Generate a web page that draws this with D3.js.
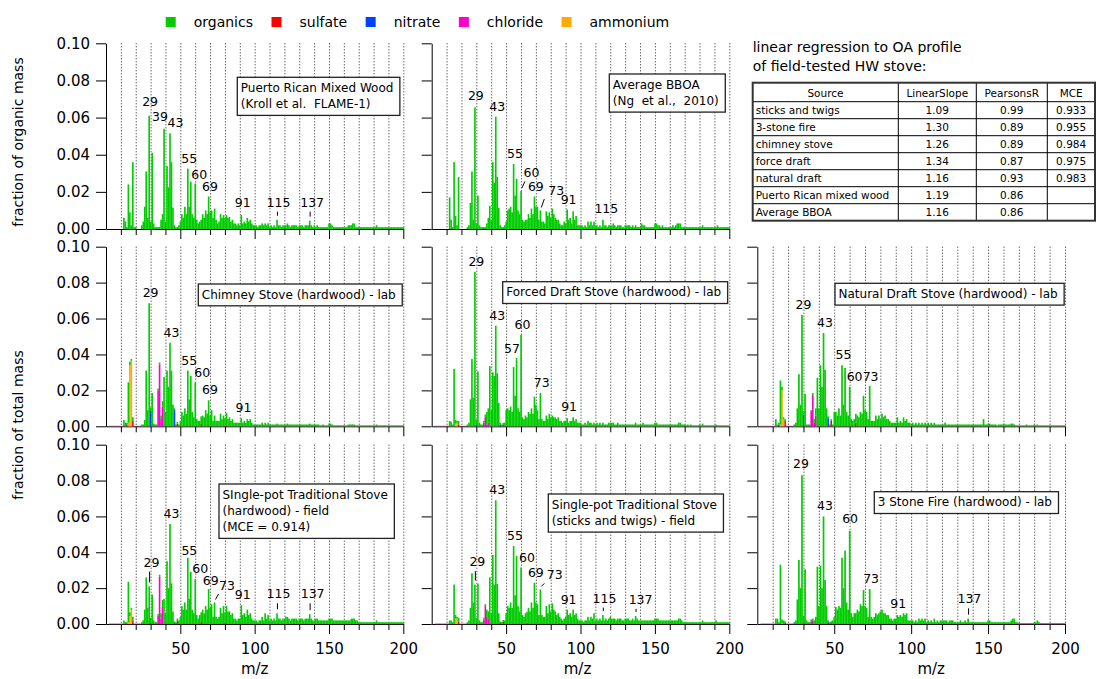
<!doctype html>
<html>
<head>
<meta charset="utf-8">
<title>Stove OA mass spectra</title>
<script src="https://cdnjs.cloudflare.com/ajax/libs/d3/7.8.5/d3.min.js"></script>
<style>
  body { margin: 0; background: #fff; }
  svg text { font-family: "DejaVu Sans", sans-serif; fill: #000; }
  line.grid { stroke: #222; stroke-width: 1; stroke-dasharray: 1 2; }
  .box rect { fill: #fff; stroke: #222; stroke-width: 1.3; }
  .box text { font-size: 12px; white-space: pre; }
  .peak { font-size: 12.5px; text-anchor: middle; }
  .lead { stroke: #000; stroke-width: 1; }
  .tbl line { stroke: #000; stroke-width: 1; }
  .tbl text { font-size: 10.5px; }
</style>
</head>
<body>
<svg width="1096" height="679"></svg>
<script>
// ---- data -------------------------------------------------------------
// organic spectra, one row per decade, first value is m/z 10
var mzFirst = 10;

var orgPuerto = [
  [0,0,.006,.004,.001,.024,.009,.002,.036,.001],
  [.001,0,0,0,.002,.004,.012,.031,.006,.061],
  [.004,.041,.003,.001,.001,.001,.001,.005,.008,.054],
  [.004,.034,.0225,.0515,.036,.0115,.002,.001,.001,.002],
  [.004,.008,.006,.012,.008,.0325,.012,.0255,.008,.006],
  [.0245,.005,.003,.004,.005,.008,.006,.010,.008,.0175],
  [.009,.010,.006,.011,.005,.003,.004,.008,.006,.0075],
  [.006,.0075,.006,.0065,.004,.005,.003,.003,.002,.003],
  [.002,.0075,.003,.004,.003,.006,.004,.005,.003,.002],
  [.002,.002,.001,.002,.002,.003,.002,.003,.002,.003],
  [.001,.002,.001,.002,.001,.005,.002,.002,.001,.002],
  [.002,.002,.003,.002,.001,.002,.002,.002,.002,.001],
  [.002,.002,.002,.001,.002,.002,.002,.0045,.002,.001],
  [.002,.001,.002,.001,.001,.001,.001,.001,.001,.001],
  [.003,.003,.002,.001,.001,.001,.001,.001,.001,.001],
  [.001,.001,.001,.002,.002,.002,.003,.003,.001,.001],
  [.001,.001,.001,.001,.001,.001,.001,.001,.001,.001],
  [.001,.001,.002,.001,.001,.001,.001,.001,.001,.001],
  [.001,.001,.001,.001,.001,.001,.001,.001,.001,.001,.001]
];

var orgBBOA = [
  [0,0,.017,.005,.001,.036,.007,.002,.028,0],
  [0,0,0,0,.001,.002,.014,.031,.005,.0655],
  [.003,.018,.002,.001,.001,.001,.001,.003,.006,.0125],
  [.005,.036,.025,.0605,.028,.0115,.002,.001,.001,.002],
  [.004,.010,.011,.012,.009,.035,.018,.027,.010,.008],
  [.0205,.005,.004,.005,.005,.008,.006,.011,.008,.0175],
  [.012,.012,.005,.010,.004,.004,.003,.0095,.007,.009],
  [.006,.011,.008,.006,.005,.005,.003,.002,.002,.004],
  [.003,.0105,.005,.006,.003,.0095,.005,.007,.002,.002],
  [.002,.002,.001,.002,.001,.004,.002,.004,.002,.004],
  [.002,.002,.001,.002,.001,.005,.002,.002,.001,.002],
  [.002,.002,.003,.002,.001,.002,.002,.002,.001,.001],
  [.002,.002,.002,.002,.001,.002,.001,.002,.001,.001],
  [.001,.003,.002,.002,.001,.001,.001,.001,.001,.001],
  [.003,.003,.002,.002,.001,.002,.001,.001,.001,.001],
  [.001,.001,.002,.001,.002,.003,.003,.003,.001,.001],
  [.001,.001,.001,.001,.001,.001,.001,.001,.001,.001],
  [.001,.001,.002,.001,.001,.001,.001,.001,.001,.001],
  [.001,.001,.002,.001,.001,.001,.001,.001,.001,.001,.001]
];

var orgChimney = [
  [0,0,.0035,.002,.001,.0225,.002,.001,.002,0],
  [0,0,0,0,.001,.001,.0035,.031,.009,.0685],
  [.002,.0185,.0015,.001,.001,.001,.001,.002,.003,.0275],
  [.008,.031,.022,.0465,.031,.012,.001,.001,.001,.001],
  [.003,.008,.006,.010,.007,.031,.015,.028,.008,.005],
  [.0245,.004,.003,.003,.004,.006,.005,.009,.007,.0145],
  [.006,.009,.003,.006,.003,.003,.003,.007,.004,.006],
  [.004,.007,.004,.005,.003,.004,.002,.002,.002,.002],
  [.002,.0045,.002,.003,.002,.004,.003,.004,.002,.001],
  [.001,.001,.001,.001,.001,.002,.001,.002,.001,.002],
  [.001,.001,.001,.001,.001,.0015,.001,.001,.001,.001],
  [.001,.001,.0015,.001,.001,.001,.001,.001,.001,.001],
  [.001,.001,.001,.001,.001,.001,.001,.0015,.001,.001],
  [.001,.001,.001,.001,.0005,.0005,.001,.0005,.0005,.0005],
  [.0015,.0015,.001,.0005,.0005,.0005,.0005,.0005,.0005,.0005],
  [.0005,.0005,.0005,.001,.001,.001,.001,.001,.0005,.0005],
  [.0005,.0005,.0005,.0005,.0005,.0005,.0005,.0005,.0005,.0005],
  [.0005,.0005,.001,.0005,.0005,.0005,.0005,.0005,.0005,.0005],
  [.0005,.0005,.0005,.0005,.0005,.0005,.0005,.0005,.0005,.0005,.0005]
];

var orgForced = [
  [0,0,.003,.0025,.001,.032,.002,.001,.002,0],
  [0,0,0,0,.001,.002,.015,.0375,.016,.086],
  [.003,.0305,.002,.001,.001,.001,.001,.007,.008,.0335],
  [.009,.030,.028,.056,.0295,.013,.001,.001,.001,.002],
  [.009,.010,.009,.011,.008,.033,.017,.038,.010,.008],
  [.051,.005,.004,.006,.005,.008,.007,.010,.007,.0165],
  [.012,.009,.004,.0185,.004,.003,.003,.006,.004,.007],
  [.005,.006,.005,.005,.004,.005,.003,.003,.002,.003],
  [.003,.0045,.002,.003,.003,.005,.003,.004,.002,.002],
  [.002,.001,.001,.002,.001,.003,.002,.002,.001,.002],
  [.001,.002,.001,.002,.001,.002,.001,.001,.001,.002],
  [.002,.002,.002,.001,.001,.002,.001,.001,.001,.001],
  [.001,.001,.001,.001,.001,.001,.001,.002,.001,.001],
  [.001,.001,.002,.001,.001,.001,.001,.001,.001,.001],
  [.002,.002,.001,.001,.001,.001,.001,.001,.001,.001],
  [.001,.001,.001,.001,.001,.001,.002,.002,.001,.001],
  [.001,.0005,.001,.0005,.001,.0005,.0005,.0005,.0005,.0005],
  [.001,.0005,.0015,.0005,.0005,.0005,.0005,.0005,.0005,.0005],
  [.0005,.001,.0005,.0005,.0005,.0005,.0005,.0005,.0005,.0005,.0005]
];

var orgNatural = [
  [0,0,.004,.001,.001,.0245,.002,.001,.001,0],
  [0,0,0,0,.001,.002,.010,.029,.012,.062],
  [.002,.018,.001,.001,.001,.001,.001,.002,.004,.027],
  [.010,.034,.022,.052,.0315,.010,.001,.001,.001,.001],
  [.008,.008,.006,.010,.006,.034,.012,.0325,.008,.006],
  [.022,.004,.003,.004,.005,.006,.005,.008,.007,.017],
  [.009,.008,.004,.0225,.003,.003,.003,.006,.004,.006],
  [.004,.007,.005,.006,.004,.004,.003,.002,.002,.002],
  [.002,.005,.002,.003,.002,.005,.003,.004,.002,.002],
  [.001,.002,.001,.002,.001,.002,.001,.002,.001,.002],
  [.001,.002,.001,.002,.001,.002,.001,.001,.001,.001],
  [.001,.001,.002,.001,.001,.001,.001,.001,.001,.001],
  [.001,.001,.001,.001,.001,.001,.001,.001,.001,.001],
  [.001,.001,.001,.001,.001,.001,.001,.004,.001,.001],
  [.0015,.0015,.001,.001,.001,.001,.0005,.001,.001,.001],
  [.0015,.001,.001,.001,.001,.0015,.0015,.001,.0005,.0005],
  [.0005,.0005,.0005,.0005,.0005,.001,.0005,.0005,.0005,.0005],
  [.001,.0005,.001,.0005,.0005,.0005,.0005,.0005,.0005,.0005],
  [.0005,.0005,.0005,.0005,.0005,.0005,.0005,.0005,.0005,.0005,.0005]
];

var orgHardField = [
  [0,0,.002,.001,.001,.0225,.002,.001,.002,0],
  [0,0,0,0,.001,.002,.008,.026,.009,.021],
  [.003,.0165,.002,.001,.001,.001,.001,.003,.004,.014],
  [.006,.035,.020,.0558,.0227,.007,.001,.001,.001,.002],
  [.004,.010,.008,.012,.008,.037,.014,.029,.008,.006],
  [.025,.005,.003,.005,.005,.008,.006,.010,.008,.0195],
  [.009,.011,.004,.012,.004,.003,.004,.009,.006,.010],
  [.006,.010,.007,.007,.005,.006,.003,.003,.002,.003],
  [.003,.0105,.005,.006,.004,.008,.005,.006,.003,.002],
  [.002,.002,.001,.002,.002,.004,.002,.006,.003,.005],
  [.002,.003,.002,.003,.002,.006,.003,.003,.002,.003],
  [.003,.004,.004,.003,.002,.003,.003,.003,.003,.002],
  [.003,.003,.003,.002,.003,.003,.003,.0055,.003,.002],
  [.002,.003,.003,.002,.002,.002,.002,.002,.002,.002],
  [.003,.003,.003,.002,.002,.002,.002,.002,.002,.002],
  [.002,.002,.002,.002,.002,.003,.003,.003,.002,.002],
  [.001,.001,.001,.001,.001,.001,.001,.001,.001,.001],
  [.001,.001,.002,.001,.001,.001,.001,.001,.001,.001],
  [.001,.001,.001,.001,.001,.001,.001,.001,.001,.001,.001]
];

var orgSticks = [
  [0,0,.002,.002,.001,.022,.002,.001,.002,0],
  [0,0,0,0,.001,.002,.009,.0283,.012,.022],
  [.003,.0225,.002,.001,.001,.001,.001,.004,.004,.026],
  [.006,.0385,.022,.069,.0223,.006,.001,.001,.001,.002],
  [.006,.010,.009,.012,.009,.0435,.016,.038,.010,.007],
  [.0315,.005,.004,.006,.006,.009,.007,.012,.009,.023],
  [.012,.011,.005,.0193,.005,.004,.004,.010,.006,.011],
  [.007,.0115,.008,.007,.005,.006,.004,.003,.002,.003],
  [.004,.008,.005,.006,.004,.008,.005,.006,.003,.002],
  [.002,.002,.001,.002,.002,.004,.002,.004,.003,.006],
  [.002,.003,.002,.003,.002,.005,.002,.003,.002,.003],
  [.004,.003,.003,.003,.002,.003,.003,.003,.002,.002],
  [.003,.003,.003,.002,.002,.003,.002,.0045,.003,.002],
  [.002,.002,.002,.002,.002,.002,.002,.002,.002,.002],
  [.003,.003,.003,.002,.002,.002,.002,.002,.002,.002],
  [.002,.002,.002,.002,.002,.002,.003,.003,.002,.001],
  [.001,.001,.001,.001,.001,.001,.001,.001,.001,.001],
  [.001,.001,.002,.001,.001,.001,.001,.001,.001,.001],
  [.001,.002,.001,.001,.001,.001,.001,.001,.001,.001,.001]
];

var orgStone = [
  [0,0,.003,.003,.001,.033,.002,.002,.001,0],
  [0,0,0,0,.001,.002,.0137,.0357,.020,.083],
  [.004,.0305,.002,.001,.001,.001,.001,.002,.004,.032],
  [.010,.0325,.020,.060,.0245,.010,.001,.001,.001,.002],
  [.004,.0095,.008,.010,.009,.037,.020,.041,.012,.008],
  [.052,.006,.004,.006,.006,.008,.007,.011,.010,.019],
  [.010,.009,.004,.0195,.004,.003,.004,.006,.005,.006],
  [.007,.008,.006,.006,.005,.005,.003,.003,.002,.003],
  [.003,.005,.004,.005,.004,.006,.005,.006,.002,.002],
  [.002,.002,.001,.002,.001,.003,.002,.003,.002,.003],
  [.001,.002,.001,.002,.001,.003,.001,.002,.001,.002],
  [.002,.002,.002,.002,.001,.002,.002,.002,.001,.001],
  [.001,.001,.002,.001,.001,.002,.001,.003,.001,.001],
  [.001,.001,.001,.001,.001,.001,.001,.001,.001,.001],
  [.002,.002,.001,.001,.001,.001,.001,.001,.001,.001],
  [.001,.001,.001,.001,.001,.002,.003,.003,.001,.001],
  [.0005,.0005,.0005,.0005,.0005,.0005,.0005,.0005,.0005,.0005],
  [.001,.001,.002,.001,.0005,.0005,.0005,.0005,.0005,.0005],
  [.0005,.0005,.0005,.0005,.0005,.0005,.0005,.0005,.0005,.0005,.0005]
];

// inorganic species, [m/z, fraction]
var chimneySulfate = [[18,.003],[48,.0015],[64,.0015],[80,.0005],[81,.0005]];
var chimneyNitrate = [[14,.001],[30,.0085],[46,.009]];
var chimneyChloride = [[35,.020],[36,.0345],[37,.004],[38,.011]];
var chimneyAmmonium = [[15,.002],[16,.034],[17,.0365]];

var forcedSulfate = [[18,.001],[48,.0008]];
var forcedNitrate = [[30,.0008],[46,.001]];
var forcedChloride = [[35,.002],[36,.0055],[37,.001],[38,.002]];
var forcedAmmonium = [[16,.0015],[17,.002]];

var naturalSulfate = [[18,.003],[48,.003],[64,.002]];
var naturalNitrate = [[14,.001],[30,.0065],[46,.0045]];
var naturalChloride = [[35,.008],[36,.0175],[37,.002],[38,.006]];
var naturalAmmonium = [[15,.001],[16,.020],[17,.004]];

var hardSulfate = [[18,.002],[48,.002],[64,.0015],[80,.0005]];
var hardNitrate = [[30,.0005],[46,.0005]];
var hardChloride = [[35,.0045],[36,.0265],[37,.003],[38,.0095]];
var hardAmmonium = [[15,.001],[16,.0045],[17,.008]];

var sticksSulfate = [[18,.0015],[48,.0012],[64,.0008]];
var sticksNitrate = [[30,.0005],[46,.0005]];
var sticksChloride = [[35,.0025],[36,.010],[37,.004],[38,.003]];
var sticksAmmonium = [[16,.003],[17,.003]];

var stoneSulfate = [[18,.0005],[48,.0005]];
var stoneNitrate = [[30,.0005],[46,.001]];
var stoneChloride = [[35,.0015],[36,.002]];
var stoneAmmonium = [[16,.0005]];

// labelled peaks
var peaksPuerto = [29,39,43,55,60,69,91,115,137];
var peaksBBOA = [29,43,55,60,69,73,91,115];
var peaksChimney = [29,43,55,60,69,91];
var peaksForced = [29,43,57,60,73,91];
var peaksNatural = [29,43,55,60,73];
var peaksHard = [29,43,55,60,69,73,91,115,137];
var peaksSticks = [29,43,55,60,69,73,91,115,137];
var peaksStone = [29,43,60,73,91,137];

var species = ["organics","sulfate","nitrate","chloride","ammonium"];
var speciesColors = ["#00cc00","#ff0000","#0040ff","#ff00cc","#ffaa00"];
var stackOrder = ["sulfate","nitrate","chloride","ammonium","organics"];

var yTicks = [0,0.02,0.04,0.06,0.08,0.10];
var xTicks = [10,20,30,40,50,60,70,80,90,100,110,120,130,140,150,160,170,180,190,200];
var xMajor = [50,100,150,200];

var tableHead = ["Source","LinearSlope","PearsonsR","MCE"];
var tableSource = ["sticks and twigs","3-stone fire","chimney stove","force draft","natural draft","Puerto Rican mixed wood","Average BBOA"];
var tableSlope = ["1.09","1.30","1.26","1.34","1.16","1.19","1.16"];
var tablePearson = ["0.99","0.89","0.89","0.87","0.93","0.86","0.86"];
var tableMCE = ["0.933","0.955","0.984","0.975","0.983","",""];

// ---- layout -----------------------------------------------------------
var cols = [{l:106, r:403.3}, {l:431.7, r:729.3}, {l:757.3, r:1065}];
var rows = [{t:43.3, b:229}, {t:246.7, b:426.3}, {t:444.7, b:624}];

var panels = [
  {key:"A", col:0, row:0, org:orgPuerto, peaks:peaksPuerto, box:[131.3,34],
   title:["Puerto Rican Mixed Wood","(Kroll et al.  FLAME-1)"]},
  {key:"B", col:1, row:0, org:orgBBOA, peaks:peaksBBOA, box:[177.6,30.7],
   title:["Average BBOA","(Ng  et al.,  2010)"]},
  {key:"C", col:0, row:1, org:orgChimney, peaks:peaksChimney, box:[92.3,37.3],
   sulfate:chimneySulfate, nitrate:chimneyNitrate, chloride:chimneyChloride, ammonium:chimneyAmmonium,
   title:["Chimney Stove (hardwood) - lab"]},
  {key:"D", col:1, row:1, org:orgForced, peaks:peaksForced, box:[71,35],
   sulfate:forcedSulfate, nitrate:forcedNitrate, chloride:forcedChloride, ammonium:forcedAmmonium,
   title:["Forced Draft Stove (hardwood) - lab"]},
  {key:"E", col:2, row:1, org:orgNatural, peaks:peaksNatural, box:[77.7,36.6],
   sulfate:naturalSulfate, nitrate:naturalNitrate, chloride:naturalChloride, ammonium:naturalAmmonium,
   title:["Natural Draft Stove (hardwood) - lab"]},
  {key:"F", col:0, row:2, org:orgHardField, peaks:peaksHard, box:[113,39.3],
   sulfate:hardSulfate, nitrate:hardNitrate, chloride:hardChloride, ammonium:hardAmmonium,
   title:["SIngle-pot Traditional Stove","(hardwood) - field","(MCE = 0.914)"]},
  {key:"G", col:1, row:2, org:orgSticks, peaks:peaksSticks, box:[116.6,49.3],
   sulfate:sticksSulfate, nitrate:sticksNitrate, chloride:sticksChloride, ammonium:sticksAmmonium,
   title:["Single-pot Traditional Stove","(sticks and twigs) - field"]},
  {key:"H", col:2, row:2, org:orgStone, peaks:peaksStone, box:[117,47],
   sulfate:stoneSulfate, nitrate:stoneNitrate, chloride:stoneChloride, ammonium:stoneAmmonium,
   title:["3 Stone Fire (hardwood) - lab"]}
];

// label offsets from the peak top: [dx, dy, leader]
var nudge = {
  A:{29:[1,-9.5],39:[-4,-8],43:[5.5,-6],60:[4,-5],91:[1.5,-8],115:[1.5,-13,"|"],137:[2.5,-14,"|"]},
  B:{29:[1,-7],60:[10.5,-13.6,"/"],73:[16,-15.4,"/"],115:[3.5,-6.4]},
  C:{60:[7,-5.6],91:[2.3,-6.5]},
  D:{57:[-4.5,-5.3],91:[2,-7.5]},
  E:{60:[5,-6],73:[1,-5]},
  F:{29:[2.4,-19.7,"|"],55:[1.6,-2.8],60:[5,-6.5],69:[2.2,-4.5],73:[12.5,-12.5,"/"],115:[1.6,-15,"|"],137:[3,-15.8,"|"]},
  G:{29:[2.5,-18.4,"|"],60:[6,-6],73:[14.5,-10,"/"],91:[1.5,-5.7],115:[1.7,-12.4,"|"],137:[5,-12,"|"]},
  H:{29:[-1,-7],60:[0.5,-7.7],91:[1,-6.7],137:[1.3,-15.3,"|"]}
};
var mzLabelX = [0.5, 0.49, 0.565];

var svg = d3.select("svg");
var color = d3.scaleOrdinal().domain(species).range(speciesColors);

panels.forEach(function(p) {
  var c = cols[p.col], r = rows[p.row];
  var x = d3.scaleLinear().domain([0, 200]).range([c.l, c.r]);
  var y = d3.scaleLinear().domain([0, 0.1]).range([r.b, r.t]);
  var g = svg.append("g");

  var org = p.org.flat();
  var table = org.map(function(v, i) {
    return {mz: mzFirst + i, organics: v, sulfate: 0, nitrate: 0, chloride: 0, ammonium: 0};
  });
  ["sulfate","nitrate","chloride","ammonium"].forEach(function(s) {
    (p[s] || []).forEach(function(d) { table[d[0] - mzFirst][s] = d[1]; });
  });

  g.selectAll("line.grid").data(xTicks).enter().append("line")
    .attr("class", "grid")
    .attr("x1", function(d) { return x(d) + 0.5; })
    .attr("x2", function(d) { return x(d) + 0.5; })
    .attr("y1", y(0.1)).attr("y2", y(0));

  // axes
  var ya = g.append("g").attr("transform", "translate(" + c.l + ",0)")
    .call(d3.axisLeft(y).tickValues(yTicks).tickSize(10).tickSizeOuter(0).tickPadding(6)
      .tickFormat(p.col === 0 ? d3.format(".2f") : function() { return ""; }));
  var xa = g.append("g").attr("transform", "translate(0," + r.b + ")")
    .call(d3.axisBottom(x).tickValues(xTicks).tickSize(6).tickSizeOuter(0).tickPadding(13)
      .tickFormat(function(d) { return (p.row === 2 && xMajor.indexOf(d) >= 0) ? d : ""; }));
  xa.selectAll(".tick line").attr("y2", function(d) { return xMajor.indexOf(d) >= 0 ? 10 : 6; });
  [ya, xa].forEach(function(a) {
    a.attr("font-family", "DejaVu Sans").attr("font-size", 15).attr("color", "#000");
  });

  if (p.row > 0) {
    g.append("line").attr("x1", x(2)).attr("x2", x(200)).attr("y1", y(0)).attr("y2", y(0))
      .attr("stroke", "#8a3470").attr("stroke-opacity", 0.75);
  }

  var series = d3.stack().keys(stackOrder)(table);
  var bw = x(1) - x(0);
  series.forEach(function(s) {
    g.append("g").attr("fill", color(s.key))
      .selectAll("rect").data(s.filter(function(d) { return d[1] - d[0] > 0; }))
      .enter().append("rect")
        .attr("x", function(d) { return x(d.data.mz) - bw / 2; })
        .attr("width", bw + 0.15)
        .attr("y", function(d) { return y(d[1]); })
        .attr("height", function(d) { return y(d[0]) - y(d[1]); });
  });

  // peak labels
  var nd = nudge[p.key] || {};
  p.peaks.forEach(function(mz) {
    var row = table[mz - mzFirst];
    var tot = stackOrder.reduce(function(a, k) { return a + row[k]; }, 0);
    var o = nd[mz] || [1.5, -6];
    var bx = x(mz), top = y(tot);
    var ty = top + o[1];
    g.append("text").attr("class", "peak").attr("x", bx + o[0]).attr("y", ty).text(mz);
    if (o[2] === "|") {
      g.append("line").attr("class", "lead")
        .attr("x1", bx + 0.5).attr("x2", bx + 0.5).attr("y1", ty + 5).attr("y2", top - 4);
    } else if (o[2] === "/") {
      g.append("line").attr("class", "lead")
        .attr("x1", bx + 1).attr("y1", top - 3).attr("x2", bx + 4).attr("y2", ty + 4);
    }
  });

  // text box
  var b = g.append("g").attr("class", "box");
  var rect = b.append("rect");
  var bxl = c.l + p.box[0], byt = r.t + p.box[1];
  var maxW = 0;
  p.title.forEach(function(t, i) {
    var tx = b.append("text").attr("x", bxl + 3.5).attr("y", byt + 14.5 + i * 16.3).text(t);
    maxW = Math.max(maxW, tx.node().getComputedTextLength());
  });
  rect.attr("x", bxl).attr("y", byt).attr("width", maxW + 10)
    .attr("height", 16.3 * p.title.length + 5.5);

  if (p.row === 2) {
    g.append("text").attr("x", c.l + (c.r - c.l) * mzLabelX[p.col]).attr("y", 674)
      .attr("text-anchor", "middle").attr("font-size", 15).text("m/z");
  }
});

// y titles
svg.append("text").attr("transform", "translate(23,142) rotate(-90)")
  .attr("text-anchor", "middle").attr("font-size", 14).text("fraction of organic mass");
svg.append("text").attr("transform", "translate(23,425) rotate(-90)")
  .attr("text-anchor", "middle").attr("font-size", 14).text("fraction of total mass");

// legend
var lx = 165.7;
species.forEach(function(s, i) {
  svg.append("rect").attr("x", lx).attr("y", 17).attr("width", 10).attr("height", 10)
    .attr("fill", speciesColors[i]);
  var t = svg.append("text").attr("x", lx + 28).attr("y", 26.5).attr("font-size", 14).text(s);
  lx = lx + 28 + t.node().getComputedTextLength() + 18.5;
});

// regression table
svg.append("text").attr("x", 752.7).attr("y", 51.7).attr("font-size", 14).text("linear regression to OA profile");
svg.append("text").attr("x", 752.7).attr("y", 70.7).attr("font-size", 14).text("of field-tested HW stove:");

var colEdges = [752.7, 898.3, 976.3, 1047.3, 1095];
var rowEdges = [82.7, 101.7, 118.7, 135.7, 152.7, 169.7, 186.7, 203.7, 220.7];
var tg = svg.append("g").attr("class", "tbl");
rowEdges.slice(1, -1).forEach(function(yy) {
  tg.append("line").attr("x1", colEdges[0]).attr("x2", colEdges[4]).attr("y1", yy).attr("y2", yy);
});
colEdges.slice(1, -1).forEach(function(xx) {
  tg.append("line").attr("x1", xx).attr("x2", xx).attr("y1", rowEdges[0]).attr("y2", rowEdges[8]);
});
tg.append("rect").attr("x", colEdges[0]).attr("y", rowEdges[0])
  .attr("width", colEdges[4] - colEdges[0]).attr("height", rowEdges[8] - rowEdges[0])
  .attr("fill", "none").attr("stroke", "#333").attr("stroke-width", 2);
tableHead.forEach(function(h, j) {
  tg.append("text").attr("x", (colEdges[j] + colEdges[j + 1]) / 2).attr("y", rowEdges[1] - 4.5)
    .attr("text-anchor", "middle").text(h);
});
var tableCols = [tableSource, tableSlope, tablePearson, tableMCE];
tableCols.forEach(function(colVals, j) {
  colVals.forEach(function(v, i) {
    var t = tg.append("text").attr("y", rowEdges[i + 2] - 4.5).text(v);
    if (j === 0) t.attr("x", colEdges[0] + 3);
    else t.attr("x", (colEdges[j] + colEdges[j + 1]) / 2).attr("text-anchor", "middle");
  });
});
</script>
</body>
</html>
